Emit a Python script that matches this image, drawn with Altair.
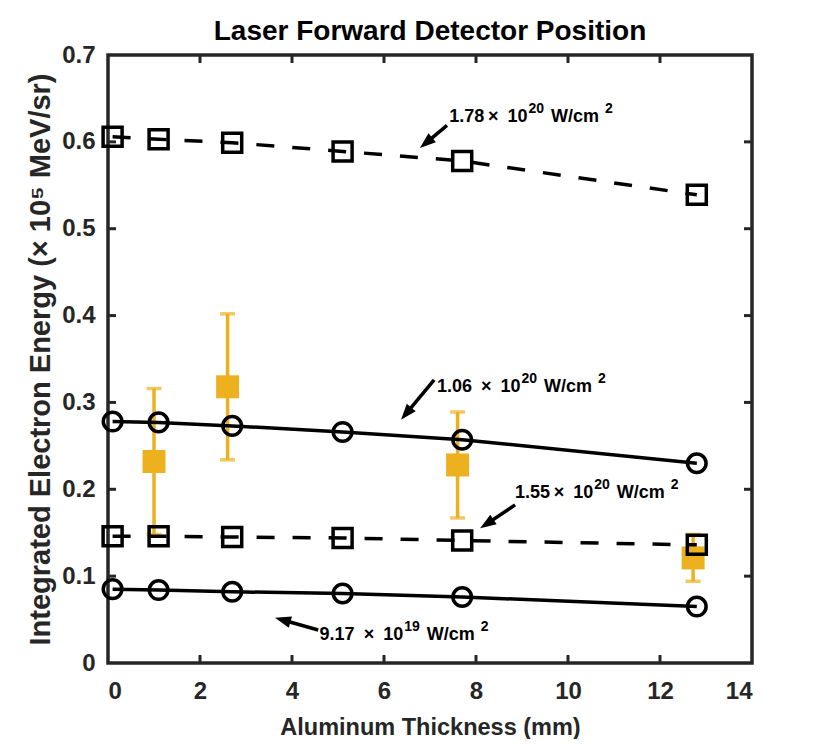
import math
import altair as alt
import pandas as pd

# ---------------- data ----------------
thickness = [0.1, 1.1, 2.7, 5.1, 7.7, 12.8]
e_178 = [0.606, 0.603, 0.599, 0.589, 0.578, 0.539]
e_106 = [0.278, 0.277, 0.273, 0.266, 0.257, 0.230]
e_155 = [0.146, 0.146, 0.145, 0.144, 0.141, 0.136]
e_917 = [0.085, 0.084, 0.082, 0.080, 0.076, 0.065]

exp_x = [1.0, 2.6, 7.6, 12.72]
exp_y = [0.232, 0.318, 0.228, 0.121]
exp_err = [0.084, 0.084, 0.061, 0.027]

x_ticks = [0, 2, 4, 6, 8, 10, 12, 14]
y_ticks = [0, 0.1, 0.2, 0.3, 0.4, 0.5, 0.6, 0.7]

# label pieces: mantissa part, exponent of ten
label_base = ["1.78\u2009\u00d7\u2002" + "10", "1.06\u2002\u00d7\u2002" + "10",
              "1.55\u2009\u00d7\u2002" + "10", "9.17\u2002\u00d7\u2002" + "10"]
label_exp = ["20", "20", "20", "19"]
label_unit = "W/cm"
label_unit_exp = "2"
label_x = [7.42, 7.15, 8.85, 4.60]
label_y = [0.623, 0.312, 0.190, 0.027]

arrow_tail_x = [7.37, 7.09, 8.85, 4.57]
arrow_tail_y = [0.619, 0.326, 0.182, 0.038]
arrow_tip_x = [6.78, 6.37, 8.09, 3.63]
arrow_tip_y = [0.593, 0.280, 0.155, 0.052]

# ---------------- layout ----------------
W, H = 644, 608
XMAX, YMAX = 14, 0.7
PX = W / XMAX
PY = H / YMAX
FRAME = "#262626"
ORANGE = "#EDB120"
FONT = "Liberation Sans"
LW = 3.5

# Liberation Sans Bold advance widths (per 1000 em)
ADV = {str(d): 556 for d in range(10)}
ADV.update({".": 278, " ": 278, "\u00d7": 584, "\u2002": 500, "\u2009": 200,
            "W": 944, "/": 278, "c": 556, "m": 889})


def text_w(s, fs):
    return sum(ADV.get(ch, 556) for ch in s) / 1000 * fs


xs = alt.Scale(domain=[0, XMAX], nice=False, zero=False)
ys = alt.Scale(domain=[0, YMAX], nice=False, zero=False)

X = alt.X("x:Q", scale=xs,
          axis=alt.Axis(values=x_ticks, title="Aluminum Thickness (mm)", format="d"))
Y = alt.Y("y:Q", scale=ys,
          axis=alt.Axis(values=y_ticks, format="~g",
                        title="Integrated Electron Energy (\u00d7 10\u2075 MeV/sr)"))

rows = []
for name, vals in [("178", e_178), ("106", e_106), ("155", e_155), ("917", e_917)]:
    for xv, yv in zip(thickness, vals):
        rows.append({"series": name, "x": xv, "y": yv})
lines_df = pd.DataFrame(rows)
dashed_df = lines_df[lines_df.series.isin(["178", "155"])]
solid_df = lines_df[lines_df.series.isin(["106", "917"])]

exp_df = pd.DataFrame({"x": exp_x, "y": exp_y,
                       "lo": [a - b for a, b in zip(exp_y, exp_err)],
                       "hi": [a + b for a, b in zip(exp_y, exp_err)]})

# arrows
arr_rows = []
for tx, ty, hx, hy in zip(arrow_tail_x, arrow_tail_y, arrow_tip_x, arrow_tip_y):
    dxp = (hx - tx) * PX
    dyp = -(hy - ty) * PY  # screen coordinates (down positive)
    L = math.hypot(dxp, dyp)
    ux, uy = dxp / L, dyp / L
    ang = math.degrees(math.atan2(dxp, -dyp)) % 360
    back = 10
    arr_rows.append({"x": tx, "y": ty,
                     "x2": hx - ux * back / PX, "y2": hy + uy * back / PY,
                     "hx": hx, "hy": hy, "angle": ang})
arr_df = pd.DataFrame(arr_rows)

# annotation text pieces (with raised exponents)
FS_MAIN, FS_SUP, RAISE = 18, 14, 9
lab_rows = []
for bx, by, base, ex in zip(label_x, label_y, label_base, label_exp):
    off = 0.0
    lab_rows.append({"x": bx, "y": by, "t": base, "fs": FS_MAIN})
    off += text_w(base, FS_MAIN) + 1
    lab_rows.append({"x": bx + off / PX, "y": by + RAISE / PY, "t": ex, "fs": FS_SUP})
    off += text_w(ex, FS_SUP) + 7
    lab_rows.append({"x": bx + off / PX, "y": by, "t": label_unit, "fs": FS_MAIN})
    off += text_w(label_unit, FS_MAIN) + 6
    lab_rows.append({"x": bx + off / PX, "y": by + RAISE / PY, "t": label_unit_exp,
                     "fs": FS_SUP})
lab_df = pd.DataFrame(lab_rows)

# ---------------- layers ----------------
err_bars = alt.Chart(exp_df).mark_rule(color=ORANGE, strokeWidth=LW).encode(
    x=X, y=alt.Y("lo:Q", scale=ys), y2="hi:Q")
caps_lo = alt.Chart(exp_df).mark_tick(color=ORANGE, orient="horizontal",
                                      size=15, thickness=LW).encode(
    x=alt.X("x:Q", scale=xs), y=alt.Y("lo:Q", scale=ys))
caps_hi = alt.Chart(exp_df).mark_tick(color=ORANGE, orient="horizontal",
                                      size=15, thickness=LW).encode(
    x=alt.X("x:Q", scale=xs), y=alt.Y("hi:Q", scale=ys))
exp_pts = alt.Chart(exp_df).mark_point(shape="square", filled=True, color=ORANGE,
                                       size=529, opacity=1).encode(x=X, y=Y)

dashed_line = alt.Chart(dashed_df).mark_line(color="black", strokeWidth=LW,
                                             strokeDash=[18, 18]).encode(
    x=X, y=Y, detail="series:N")
dashed_pts = alt.Chart(dashed_df).mark_point(shape="square", filled=False,
                                             color="black", strokeWidth=LW,
                                             size=361, opacity=1).encode(x=X, y=Y)
solid_line = alt.Chart(solid_df).mark_line(color="black", strokeWidth=LW).encode(
    x=X, y=Y, detail="series:N")
solid_pts = alt.Chart(solid_df).mark_point(shape="circle", filled=False,
                                           color="black", strokeWidth=LW,
                                           size=346, opacity=1).encode(x=X, y=Y)

shafts = alt.Chart(arr_df).mark_rule(color="black", strokeWidth=LW).encode(
    x=alt.X("x:Q", scale=xs), y=alt.Y("y:Q", scale=ys), x2="x2:Q", y2="y2:Q")
heads = alt.Chart(arr_df).mark_point(shape="M0,0L0.36,1L-0.36,1Z", filled=True,
                                     color="black", size=1024, opacity=1).encode(
    x=alt.X("hx:Q", scale=xs), y=alt.Y("hy:Q", scale=ys),
    angle=alt.Angle("angle:Q", scale=None))

texts = alt.Chart(lab_df).mark_text(align="left", baseline="alphabetic", font=FONT,
                                    fontWeight="bold", color="black").encode(
    x=alt.X("x:Q", scale=xs), y=alt.Y("y:Q", scale=ys), text="t:N",
    size=alt.Size("fs:Q", scale=None))

# inward ticks on all four sides
xt_df = pd.DataFrame({"x": x_ticks[1:-1]})
yt_df = pd.DataFrame({"y": y_ticks[1:-1]})
TL = 8
tick_b = alt.Chart(xt_df).mark_rule(color=FRAME, strokeWidth=3).encode(
    x=alt.X("x:Q", scale=xs), y=alt.value(H), y2=alt.value(H - TL))
tick_t = alt.Chart(xt_df).mark_rule(color=FRAME, strokeWidth=3).encode(
    x=alt.X("x:Q", scale=xs), y=alt.value(0), y2=alt.value(TL))
tick_l = alt.Chart(yt_df).mark_rule(color=FRAME, strokeWidth=3).encode(
    y=alt.Y("y:Q", scale=ys), x=alt.value(0), x2=alt.value(TL))
tick_r = alt.Chart(yt_df).mark_rule(color=FRAME, strokeWidth=3).encode(
    y=alt.Y("y:Q", scale=ys), x=alt.value(W - TL), x2=alt.value(W))

chart = alt.layer(
    err_bars, caps_lo, caps_hi, exp_pts,
    dashed_line, solid_line, dashed_pts, solid_pts,
    shafts, heads, texts,
    tick_b, tick_t, tick_l, tick_r,
).properties(
    width=W, height=H,
    title=alt.TitleParams("Laser Forward Detector Position", font=FONT,
                          fontSize=28, fontWeight="bold", color="black",
                          anchor="middle", offset=0, dy=3),
    autosize=alt.AutoSizeParams(type="none"),
    padding={"left": 100, "top": 47, "right": 70, "bottom": 76},
).configure_view(
    stroke=FRAME, strokeWidth=3.5, fill="white"
).configure_axis(
    domain=False, ticks=False, grid=False,
    labelFont=FONT, labelFontSize=24, labelFontWeight="bold", labelColor=FRAME,
    titleFont=FONT, titleFontWeight="bold", titleColor=FRAME,
).configure_axisX(
    labelPadding=16, titlePadding=12, titleFontSize=23.5,
).configure_axisY(
    labelPadding=13, titlePadding=6, titleFontSize=29,
)

chart.save("out.html", embed_options={"renderer": "svg", "actions": False})
